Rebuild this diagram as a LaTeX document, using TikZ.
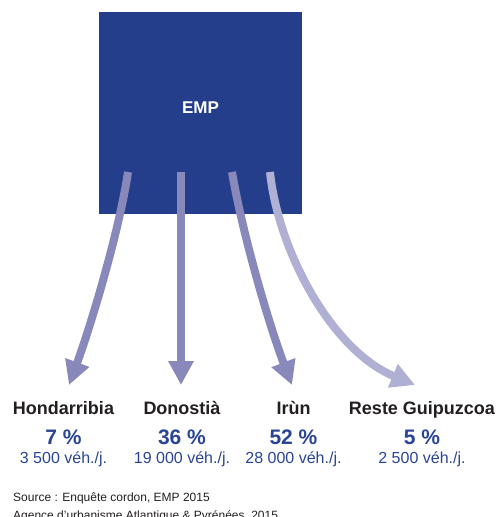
\documentclass[tikz,border=0pt]{standalone}
\usepackage{fontspec}
\setmainfont{Liberation Sans}
\usepackage{tikz}
\usetikzlibrary{positioning,calc,arrows.meta}
\usepackage{xcolor}
\definecolor{empblue}{RGB}{37,62,140}
\definecolor{flowblue}{RGB}{136,136,187}
\definecolor{flowpale}{RGB}{176,176,212}
\definecolor{pctblue}{RGB}{42,68,150}
\definecolor{labelblack}{RGB}{35,31,32}

\begin{document}
\begin{tikzpicture}[x=1pt,y=-1pt,
    place/.style={anchor=base,inner sep=0pt,text=labelblack,font=\fontsize{18}{20}\selectfont\bfseries},
    pct/.style={anchor=base,inner sep=0pt,text=pctblue,font=\fontsize{21}{23}\selectfont\bfseries},
    count/.style={anchor=base,inner sep=0pt,text=pctblue,font=\fontsize{16}{18}\selectfont},
    source/.style={anchor=base west,inner sep=0pt,text=labelblack,font=\fontsize{12}{14}\selectfont},
    flow/.style={draw=flowblue,line width=8pt,-{Triangle[width=24pt,length=24pt]}},
    flowlight/.style={flow,draw=flowpale}]
\useasboundingbox (0,0) rectangle (500,517);
% origin of the flows
\node (emp) [fill=empblue,minimum width=203pt,minimum height=202pt,inner sep=0pt,
    text=white,text height=12pt,text depth=12pt,font=\fontsize{17}{19}\selectfont\bfseries]
    at (200.5,113) {EMP};
\coordinate (s1) at (128,172);
\coordinate (s2) at (181,172);
\coordinate (s3) at (232,172);
\coordinate (s4) at (270,172);
\coordinate (t1) at (69,385);
\coordinate (t2) at (181,385);
\coordinate (t3) at (292,385);
\coordinate (t4) at (415,385);
% destinations
\node (hond) [place] at (63.5,414) {Hondarribia};
\node (dono) [place] at (182,414) {Donostià};
\node (irun) [place] at (293.5,414) {Irùn};
\node (reste) [place] at (422,414) {Reste Guipuzcoa};
\node (hond-pct) [pct] at (63.5,444) {7 \%};
\node (dono-pct) [pct] at (182,444) {36 \%};
\node (irun-pct) [pct] at (293.5,444) {52 \%};
\node (reste-pct) [pct] at (422,444) {5 \%};
\node (hond-veh) [count] at (63.5,463) {3 500 véh./j.};
\node (dono-veh) [count] at (182,463) {19 000 véh./j.};
\node (irun-veh) [count] at (293.5,463) {28 000 véh./j.};
\node (reste-veh) [count] at (422,463) {2 500 véh./j.};
% flows
\draw[flow] (s1) .. controls (119,232) and (91,325) .. (t1);
\draw[flow] (s2) -- (t2);
\draw[flow] (s3) .. controls (242,232) and (269,325) .. (t3);
\draw[flowlight] (s4) .. controls (278,250) and (331,350) .. (t4);
% source
\node (src) [source] at (13,501.5) {Source : Enquête cordon, EMP 2015};
\node (aua) [source] at (13,519) {Agence d’urbanisme Atlantique \& Pyrénées, 2015};
\end{tikzpicture}
\end{document}
